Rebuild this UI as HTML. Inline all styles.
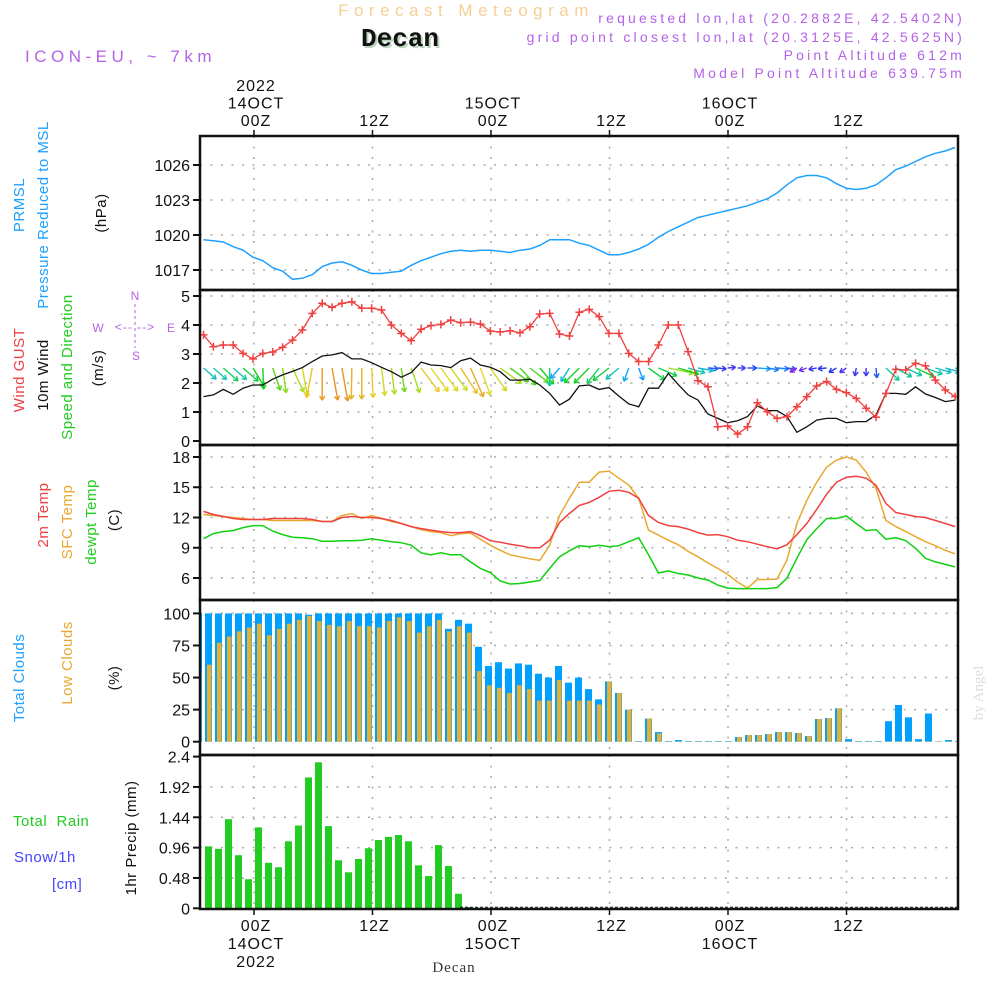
<!DOCTYPE html>
<html><head><meta charset="utf-8"><style>
html,body{margin:0;padding:0;background:#fff;}
svg{display:block;font-family:"Liberation Sans",sans-serif;}
.tk{font-size:16px;fill:#111;}
.lb{font-size:15px;letter-spacing:0.5px;}
</style></head><body>
<svg id="chart" width="1000" height="1000" viewBox="0 0 1000 1000" xmlns="http://www.w3.org/2000/svg">
<rect width="1000" height="1000" fill="#fff"/>
<text x="466" y="16" text-anchor="middle" font-size="17" letter-spacing="5.5" fill="#f6cf95">Forecast Meteogram</text>
<text x="402" y="48" text-anchor="middle" font-family="Liberation Mono, monospace" font-weight="bold" font-size="26" fill="#bcd4bc">Decan</text>
<text x="400" y="46" text-anchor="middle" font-family="Liberation Mono, monospace" font-weight="bold" font-size="26" fill="#111">Decan</text>
<text x="25" y="62" font-size="17" letter-spacing="4.5" fill="#b462e6">ICON-EU, ~ 7km</text>
<g font-size="14" letter-spacing="3.2" fill="#b462e6" text-anchor="end">
<text x="965" y="23">requested lon,lat (20.2882E, 42.5402N)</text>
<text x="965" y="42">grid point closest lon,lat (20.3125E, 42.5625N)</text>
<text x="965" y="60">Point Altitude 612m</text>
<text x="965" y="78">Model Point Altitude 639.75m</text>
</g>
<text x="454" y="972" text-anchor="middle" font-family="Liberation Serif, serif" font-size="15" letter-spacing="1" fill="#333">Decan</text>
<text transform="translate(983,693) rotate(-90)" text-anchor="middle" font-family="Liberation Serif, serif" font-size="15" fill="#ddd">by Angel</text>

<g class="lb">
<text transform="translate(24,205) rotate(-90)" text-anchor="middle" fill="#1ea0ff">PRMSL</text>
<text transform="translate(48,215) rotate(-90)" text-anchor="middle" fill="#1ea0ff">Pressure Reduced to MSL</text>
<text transform="translate(106,213) rotate(-90)" text-anchor="middle" fill="#111">(hPa)</text>
<text transform="translate(24,370) rotate(-90)" text-anchor="middle" fill="#f04040">Wind GUST</text>
<text transform="translate(48,375) rotate(-90)" text-anchor="middle" fill="#111">10m Wind</text>
<text transform="translate(72,367) rotate(-90)" text-anchor="middle" fill="#22cc22">Speed and Direction</text>
<text transform="translate(103,368) rotate(-90)" text-anchor="middle" fill="#111">(m/s)</text>
<text transform="translate(48,515) rotate(-90)" text-anchor="middle" fill="#f04040">2m Temp</text>
<text transform="translate(72,522) rotate(-90)" text-anchor="middle" fill="#e8a830">SFC Temp</text>
<text transform="translate(96,522) rotate(-90)" text-anchor="middle" fill="#22cc22">dewpt Temp</text>
<text transform="translate(119,520) rotate(-90)" text-anchor="middle" fill="#111">(C)</text>
<text transform="translate(24,678) rotate(-90)" text-anchor="middle" fill="#1ea0ff">Total Clouds</text>
<text transform="translate(72,663) rotate(-90)" text-anchor="middle" fill="#e8a830">Low Clouds</text>
<text transform="translate(119,678) rotate(-90)" text-anchor="middle" fill="#111">(%)</text>
<text x="13" y="826" fill="#22cc22" xml:space="preserve">Total  Rain</text>
<text x="14" y="862" fill="#4444ff">Snow/1h</text>
<text x="52" y="889" fill="#4444ff">[cm]</text>
<text transform="translate(136,838) rotate(-90)" text-anchor="middle" fill="#111">1hr Precip (mm)</text>
</g>
<g font-size="12" fill="#b462e6" text-anchor="middle">
<text x="135" y="300">N</text>
<text x="98" y="332">W</text><text x="171" y="332">E</text>
<text x="136" y="360">S</text>
<text x="135" y="331" letter-spacing="1">&lt;-- --&gt;</text>
<line x1="135" y1="304" x2="135" y2="348" stroke="#b462e6" stroke-width="1" stroke-dasharray="3 3"/>
</g>
<g id="plots"></g>
</svg>
<script>
const pressure = [1019.6,1019.5,1019.4,1019.0,1018.7,1018.1,1017.8,1017.2,1016.9,1016.2,1016.3,1016.6,1017.3,1017.6,1017.7,1017.4,1017.0,1016.7,1016.7,1016.8,1016.9,1017.4,1017.8,1018.1,1018.4,1018.6,1018.7,1018.6,1018.7,1018.7,1018.6,1018.5,1018.7,1018.8,1019.1,1019.6,1019.6,1019.6,1019.3,1019.1,1018.7,1018.3,1018.3,1018.5,1018.8,1019.2,1019.8,1020.3,1020.7,1021.1,1021.5,1021.7,1021.9,1022.1,1022.3,1022.5,1022.8,1023.1,1023.6,1024.3,1024.9,1025.1,1025.1,1024.9,1024.4,1024.0,1023.9,1024.0,1024.3,1024.9,1025.6,1025.9,1026.3,1026.7,1027.0,1027.2,1027.5];
const gust = [3.66,3.25,3.31,3.31,3.02,2.83,3.02,3.07,3.23,3.48,3.83,4.40,4.75,4.61,4.75,4.80,4.58,4.58,4.52,4.0,3.71,3.46,3.85,3.98,4.02,4.17,4.08,4.10,4.03,3.79,3.76,3.80,3.73,3.94,4.38,4.40,3.69,3.62,4.44,4.54,4.29,3.71,3.71,3.02,2.74,2.74,3.31,4.0,4.0,3.08,2.08,1.87,0.49,0.52,0.24,0.49,1.32,1.01,0.78,0.84,1.18,1.53,1.90,2.05,1.78,1.67,1.47,1.13,0.82,1.64,2.47,2.45,2.68,2.59,2.10,1.76,1.53];
const windSpeed = [1.53,1.59,1.78,1.61,1.82,1.93,1.93,2.13,2.28,2.40,2.53,2.74,2.93,2.97,3.05,2.83,2.83,2.70,2.54,2.39,2.20,2.36,2.72,2.62,2.60,2.53,2.77,2.86,2.62,2.54,2.39,2.10,2.10,2.13,1.93,1.64,1.24,1.44,1.90,1.93,1.78,1.84,1.55,1.28,1.18,1.82,1.82,2.33,1.95,1.59,1.41,0.93,0.78,0.63,0.70,0.84,1.21,1.05,1.05,0.84,0.30,0.49,0.72,0.78,0.78,0.63,0.67,0.67,0.90,1.64,1.64,1.61,1.87,1.62,1.50,1.36,1.41];
const windDir = [311,311,311,311,311,329,358,341,352,335,350,11,0,350,350,1,0,357,353,353,352,341,323,324,324,324,327,336,340,325,306,306,317,308,319,0,40,32,45,45,38,52,49,20,339,306,293,282,287,286,280,274,276,265,270,270,274,279,275,279,60,70,80,85,60,55,10,0,355,313,299,295,295,290,285,285,285];
const temp2m = [12.6,12.3,12.1,11.9,11.8,11.8,11.8,11.9,11.9,11.9,11.9,11.8,11.6,11.6,12.0,12.1,12.0,12.0,11.9,11.7,11.4,11.1,10.9,10.75,10.6,10.5,10.5,10.6,10.2,9.7,9.55,9.35,9.2,9.0,9.0,9.75,11.5,12.4,13.2,13.5,14.0,14.6,14.7,14.5,13.9,12.2,11.5,11.2,11.1,10.85,10.5,10.25,10.3,10.1,9.75,9.6,9.35,9.1,8.9,9.3,10.3,11.4,12.8,14.3,15.5,16.0,16.1,15.9,15.2,13.4,12.5,12.3,12.1,12.0,11.7,11.4,11.1];
const tempSfc = [12.3,12.2,12.1,12.0,11.9,11.8,11.8,11.7,11.7,11.7,11.7,11.7,11.6,11.6,12.2,12.4,11.9,12.2,11.9,11.6,11.4,11.1,10.8,10.6,10.5,10.2,10.4,10.45,9.85,9.25,8.75,8.3,8.1,7.9,7.75,9.25,12.2,13.9,15.5,15.5,16.5,16.6,15.9,15.2,13.9,10.75,10.25,9.75,9.3,8.65,8.1,7.5,6.95,6.35,5.6,5.0,5.85,5.85,5.9,7.8,11.4,13.7,15.5,17.0,17.7,18.0,17.7,16.5,14.9,11.7,11.1,10.6,10.1,9.6,9.2,8.75,8.4];
const dewpoint = [9.9,10.4,10.6,10.7,11.0,11.2,11.2,10.65,10.3,10.05,10.0,9.9,9.65,9.65,9.7,9.7,9.75,9.9,9.75,9.6,9.5,9.25,8.5,8.3,8.5,8.3,8.3,7.6,6.95,6.55,5.7,5.4,5.45,5.6,5.75,6.95,8.1,8.7,9.2,9.1,9.25,9.1,9.2,9.6,10.0,8.3,6.5,6.7,6.45,6.3,6.0,5.8,5.3,5.0,4.95,4.95,4.95,4.95,5.05,6.0,7.95,9.8,10.9,11.9,11.9,12.15,11.4,10.7,10.8,9.85,10.0,9.7,8.95,7.95,7.6,7.35,7.1];
const totalClouds = [100,100,100,100,100,100,100,100,100,100,100,99,100,100,100,100,100,100,100,100,100,100,100,100,100,88,95,92,74,59,62,57,61,60,53,50,59,46,50,41,33,47,38,25,0.5,18,7.5,0.5,1.3,0.5,0.5,0.5,0.5,0.5,3.6,5.2,5.2,6,7.5,7.5,6.8,4.4,17.7,18.4,26,2,0.5,0.5,0.5,16,28.6,19,2,22,0.3,1.3,0.5];
const lowClouds = [54,60,77,82,86,89,92,83,88,92,95,98,94,91,90,94,90,90,89,94,97,94,85,90,95,86,90,85,55,44,42,38,44,41,32,32,48,32,32,32,29,47,38,25,0.3,18,6.5,0.3,0.3,0.3,0.3,0.3,0.3,0.3,3.6,5.2,5.2,6,7.5,7.5,6.8,4.4,17.7,18.4,26,0.3,0.3,0.3,0.3,0.3,0.3,0.3,0.3,0.3,0.3,0.3,0.3];
const precip = [0,0.98,0.94,1.41,0.84,0.46,1.28,0.72,0.65,1.06,1.31,2.07,2.31,1.30,0.76,0.57,0.78,0.95,1.08,1.13,1.16,1.06,0.68,0.51,1.0,0.67,0.23,0.02,0,0,0,0,0,0,0,0,0,0,0,0,0,0,0,0,0,0,0,0,0,0,0,0,0,0,0,0,0,0,0,0,0,0,0,0,0,0,0,0,0,0,0,0,0,0,0,0,0];
const pressureTicks = [1017,1020,1023,1026];
const windTicks = [0,1,2,3,4,5];
const tempTicks = [6,9,12,15,18];
const cloudTicks = [0,25,50,75,100];
const precipTicks = ['0','0.48','0.96','1.44','1.92','2.4'];
const gridHours = [0,12,24,36,48,60];
const topLabels = [['2022','14OCT','00Z'],['','','12Z'],['','15OCT','00Z'],['','','12Z'],['','16OCT','00Z'],['','','12Z']];
const bottomLabels = [['00Z','14OCT','2022'],['12Z','',''],['00Z','15OCT',''],['12Z','',''],['00Z','16OCT',''],['12Z','','']];

const NS='http://www.w3.org/2000/svg';
const PL=200, PR=958;
const panels=[[136,290],[290,445],[445,600],[600,755],[755,909]];
const xi = i => 203.5 + 9.89*i;
const xb = i => 198.5 + 10*i;
const xt = h => 254 + 9.875*h;
const yP = v => 165 + (1026-v)*35/3;
const yW = v => 441 - 29*v;
const yT = v => 457 + (18-v)*10.083;
const yC = v => 741.7 - 1.283*v;
const yR = v => 908.3 - 63.2*v;
const root=document.getElementById('plots');
function mk(tag,attrs,parent){const e=document.createElementNS(NS,tag);for(const k in attrs)e.setAttribute(k,attrs[k]);(parent||root).appendChild(e);return e;}

const defs=mk('defs',{});
panels.forEach((p,k)=>{const c=mk('clipPath',{id:'clip'+k},defs);mk('rect',{x:PL,y:p[0],width:PR-PL,height:p[1]-p[0]},c);});

const grid=mk('g',{});


function hgrid(y){mk('line',{x1:PL,x2:PR,y1:y,y2:y,stroke:'#aaa','stroke-width':1.5,'stroke-dasharray':'2 8.5'},grid);}
panels.forEach((p,k)=>{gridHours.forEach(h=>{mk('line',{x1:xt(h),x2:xt(h),y1:p[0],y2:p[1],stroke:'#aaa','stroke-width':1.5,'stroke-dasharray':'2 8.5'},grid);});});
pressureTicks.forEach(v=>hgrid(yP(v)));
windTicks.slice(1).forEach(v=>hgrid(yW(v)));
tempTicks.forEach(v=>hgrid(yT(v)));
cloudTicks.slice(1).forEach(v=>hgrid(yC(v)));
precipTicks.slice(1,5).forEach(v=>hgrid(yR(+v)));

function yaxis(vals,f,name){const g=mk('g',{});


vals.forEach(v=>{const y=f(+v);mk('line',{x1:193,x2:PL,y1:y,y2:y,stroke:'#111','stroke-width':2},g);const t=mk('text',{x:190,y:y+6,'text-anchor':'end',class:'tk'},g);t.textContent=v;});}
yaxis(pressureTicks,yP,'pressure-y-axis');
yaxis(windTicks,yW,'wind-y-axis');
yaxis(tempTicks,yT,'temp-y-axis');
yaxis(cloudTicks,yC,'cloud-y-axis');
yaxis(precipTicks,yR,'precip-y-axis');

const tl=mk('g',{class:'tk','text-anchor':'middle','font-size':'16','letter-spacing':'1'});


gridHours.forEach((h,k)=>{const x=xt(h)+2;
 topLabels[k].forEach((s,j)=>{if(s){const t=mk('text',{x:x,y:91+j*17.5},tl);t.textContent=s;}});
 bottomLabels[k].forEach((s,j)=>{if(s){const t=mk('text',{x:x,y:931+j*18},tl);t.textContent=s;}});
 mk('line',{x1:xt(h),x2:xt(h),y1:130,y2:136,stroke:'#111','stroke-width':1.5},tl);
 mk('line',{x1:xt(h),x2:xt(h),y1:909,y2:915,stroke:'#111','stroke-width':1.5},tl);
});

function poly(arr,f,color,name,k,w){const pts=arr.map((v,i)=>xi(i).toFixed(1)+','+f(v).toFixed(1)).join(' ');
const p=mk('polyline',{points:pts,fill:'none',stroke:color,'stroke-width':w||1.5,'clip-path':'url(#clip'+k+')'});


return p;}

poly(pressure,yP,'#1ea0ff','pressure-line',0);

function windColor(s){const stops=[[0.3,[150,40,230]],[0.8,[40,60,240]],[1.2,[20,160,255]],[1.6,[20,200,170]],[1.95,[20,210,20]],[2.35,[160,220,30]],[2.65,[235,215,40]],[2.95,[230,150,30]]];
 if(s<=stops[0][0])return 'rgb('+stops[0][1]+')';for(let j=1;j<stops.length;j++){if(s<=stops[j][0]){const a=stops[j-1],b=stops[j],u=(s-a[0])/(b[0]-a[0]);return 'rgb('+a[1].map((c,m)=>Math.round(c+(b[1][m]-c)*u))+')';}}return 'rgb('+stops[stops.length-1][1]+')';}
const arrows=mk('g',{'clip-path':'url(#clip1)'});


windDir.forEach((d,i)=>{const s=windSpeed[i];const to=(d+180)*Math.PI/180;const L=Math.max(8,s*11);
 const dx=Math.sin(to),dy=-Math.cos(to);const x0=xi(i),y0=368,x1=x0+dx*L,y1=y0+dy*L;const c=windColor(s);
 const g=mk('g',{stroke:c,'stroke-width':1.4,fill:'none'},arrows);
 
 
 mk('line',{x1:x0,y1:y0,x2:x1,y2:y1},g);
 const a=Math.atan2(dy,dx);[2.6,-2.6].forEach(o=>mk('line',{x1:x1,y1:y1,x2:x1+5*Math.cos(a+o),y2:y1+5*Math.sin(a+o)},g));
});
poly(windSpeed,yW,'#111','mean-wind-line',1,1.3);
poly(gust,yW,'#f04040','gust-line',1,1.3);
const gm=mk('g',{stroke:'#f04040','stroke-width':1.5,'clip-path':'url(#clip1)'});


gust.forEach((v,i)=>{const x=xi(i),y=yW(v);mk('line',{x1:x-4,x2:x+4,y1:y,y2:y},gm);mk('line',{x1:x,x2:x,y1:y-4,y2:y+4},gm);});

poly(tempSfc,yT,'#e8a830','sfc-temp-line',2);
poly(temp2m,yT,'#f04040','temp-2m-line',2);
poly(dewpoint,yT,'#10d010','dewpoint-line',2);

const cg=mk('g',{'clip-path':'url(#clip3)'});


totalClouds.forEach((v,i)=>{const b=mk('rect',{x:xb(i)-3.5,y:yC(v),width:7,height:yC(0)-yC(v),fill:'#00a0ff'},cg);

});
lowClouds.forEach((v,i)=>{const b=mk('rect',{x:xb(i)-1.5,y:yC(v),width:4.5,height:yC(0)-yC(v),fill:'#e8b030'},cg);

});

const pg=mk('g',{'clip-path':'url(#clip4)'});


precip.forEach((v,i)=>{if(v<=0)return;const b=mk('rect',{x:xb(i)-3.5,y:yR(v),width:7,height:yR(0)-yR(v),fill:'#22cc22'},pg);

});
mk('line',{x1:460,x2:PR,y1:yR(0)-1,y2:yR(0)-1,stroke:'#111','stroke-width':1,'stroke-dasharray':'3 2'});

panels.forEach((p,k)=>{const r=mk('rect',{x:PL,y:p[0],width:PR-PL,height:p[1]-p[0],fill:'none',stroke:'#111','stroke-width':2.5});

});
</script>
</body></html>
